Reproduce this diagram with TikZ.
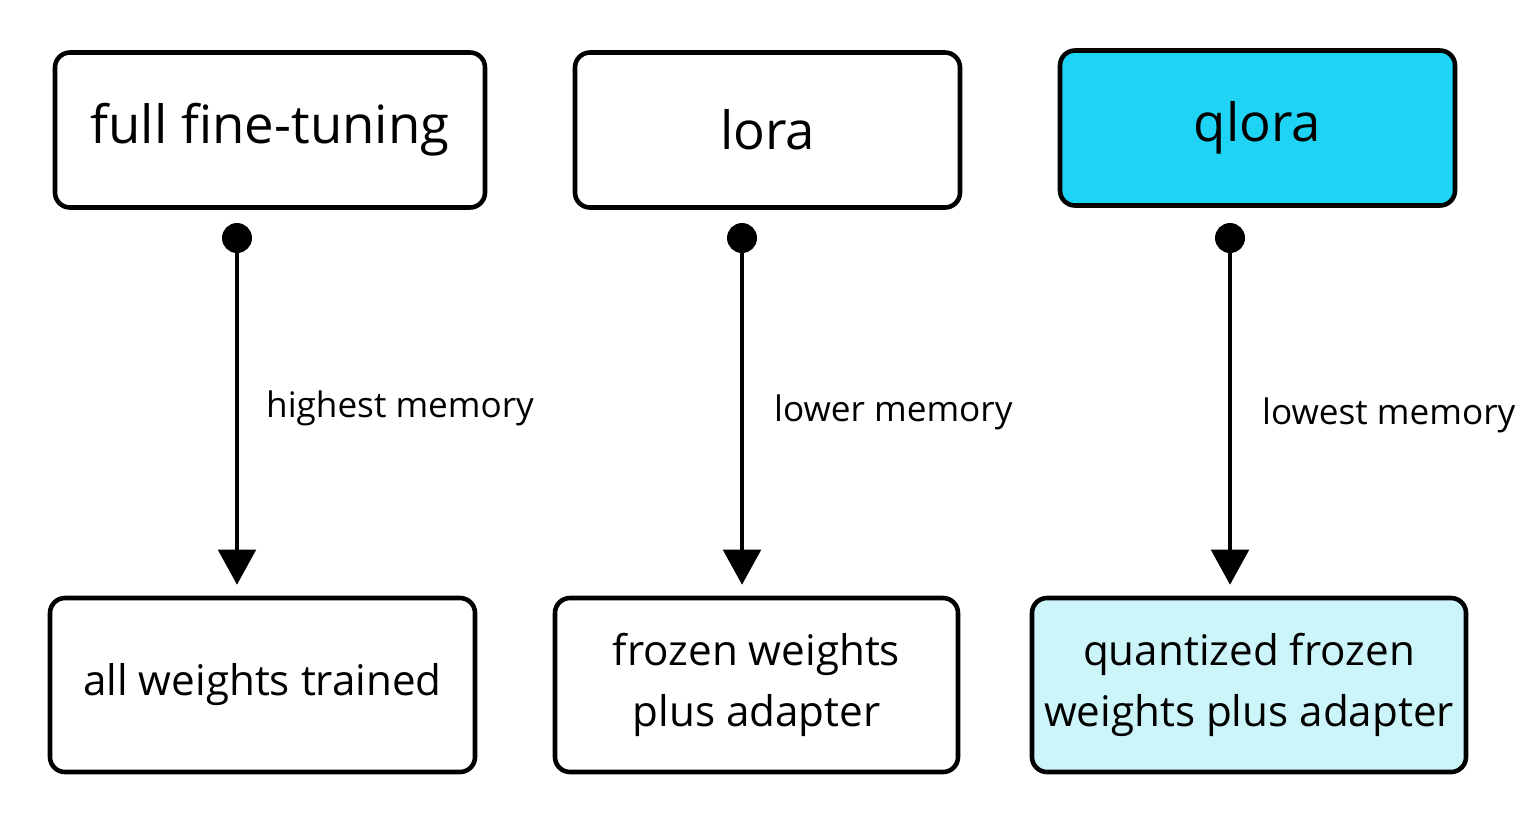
\documentclass[tikz,border=0pt]{standalone}
\usepackage{fontspec}
\setmainfont{Open Sans}
\usepackage{xcolor}
\usepackage{tikz}
\usetikzlibrary{arrows.meta}
\definecolor{qloratop}{HTML}{1FD3F5}
\definecolor{qlorabot}{HTML}{CCF5FA}

\begin{document}
\begin{tikzpicture}[
    methodbox/.style={draw, line width=2.6pt, rounded corners=0.3cm,
      minimum height=3.1cm, font=\fontsize{30}{36}\selectfont},
    resultbox/.style={draw, line width=2.6pt, rounded corners=0.3cm,
      minimum height=3.48cm, align=center, font=\fontsize{24}{35}\selectfont},
    memlabel/.style={anchor=west, font=\fontsize{20}{24}\selectfont},
    memarrow/.style={line width=2pt,
      {Circle[length=0.6cm]}-{Triangle[length=0.7cm,width=0.75cm]}, shorten >=0.22cm}
  ]
  \useasboundingbox (0,0) rectangle (30.72,-16.5);
  % top row
  \node[methodbox, minimum width=8.6cm] (fullbox) at (5.4,-2.6) {full fine-tuning};
  \node[methodbox, minimum width=7.7cm] (lorabox) at (15.35,-2.6) {lora};
  \node[methodbox, minimum width=7.9cm, fill=qloratop] (qlorabox) at (25.15,-2.56) {qlora};
  % bottom row
  \node[resultbox, minimum width=8.5cm] (fullres) at (5.25,-13.7) {all weights trained};
  \node[resultbox, minimum width=8.06cm] (lorares) at (15.13,-13.7) {frozen weights\\plus adapter};
  \node[resultbox, minimum width=8.68cm, fill=qlorabot] (qlorares) at (24.98,-13.7) {quantized frozen\\weights plus adapter};
  % arrows
  \coordinate (fulldot) at (4.74,-4.46);
  \coordinate (loradot) at (14.84,-4.46);
  \coordinate (qloradot) at (24.6,-4.46);
  \draw[memarrow] (fulldot) -- (fulldot |- fullres.north);
  \draw[memarrow] (loradot) -- (loradot |- lorares.north);
  \draw[memarrow] (qloradot) -- (qloradot |- qlorares.north);
  \node[memlabel] (fullmem) at (5.2,-8.16) {highest memory};
  \node[memlabel] (loramem) at (15.36,-8.24) {lower memory};
  \node[memlabel] (qloramem) at (25.12,-8.3) {lowest memory};
\end{tikzpicture}
\end{document}
